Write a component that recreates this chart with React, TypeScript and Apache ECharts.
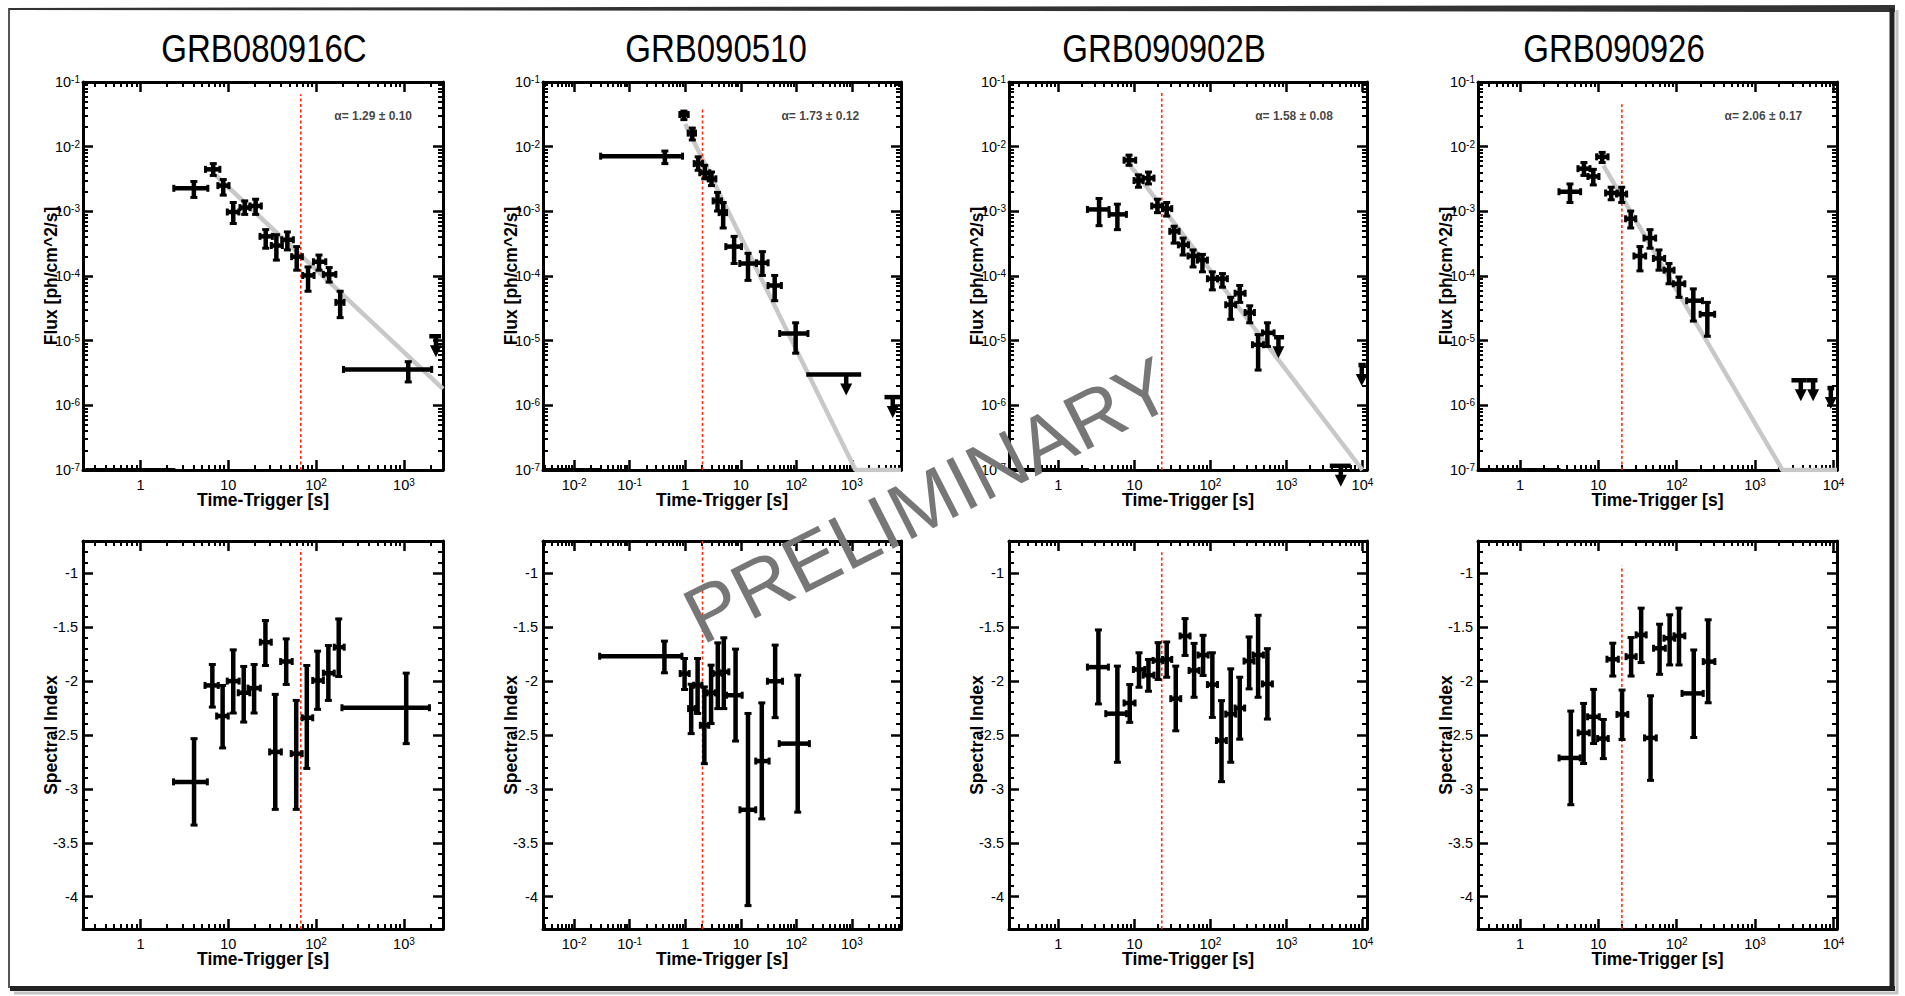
import React, { useEffect, useRef } from 'react';
import * as echarts from 'echarts';

// ---------------- DATA ----------------
const grbNames = ['GRB080916C', 'GRB090510', 'GRB090902B', 'GRB090926'];
const alphaTexts = ['α= 1.29 ± 0.10', 'α= 1.73 ± 0.12', 'α= 1.58 ± 0.08', 'α= 2.06 ± 0.17'];
// [time s, flux] anchor of each alpha annotation
const alphaAnchors = [[447, 0.0296], [270, 0.0296], [1260, 0.0296], [1277, 0.0296]];

// time axis range of each column (s)
const timeRanges = [[0.222, 2786], [0.00275, 7670], [0.224, 11480], [0.292, 11090]];
const fluxRange = [1e-7, 1e-1];
const indexRange = [-4.3, -0.7];
const indexTickValues = [-4, -3.5, -3, -2.5, -2, -1.5, -1];

// red dashed vertical line: time, top flux, top index
const breakTimes = [67, 2.05, 22.9, 20.0];
const breakTopFlux = [0.0646, 0.04, 0.0724, 0.0452];
const breakTopIndex = [-0.775, -0.7, -0.804, -0.929];

// flux points: [t, tLo, tHi, flux, fluxLo, fluxHi]
const flux080916C = [
  [4.06, 2.40, 5.86, 2.27e-3, 1.64e-3, 2.89e-3],
  [6.75, 5.51, 8.03, 4.46e-3, 3.59e-3, 5.47e-3],
  [8.77, 7.62, 10.2, 2.50e-3, 1.78e-3, 3.10e-3],
  [11.4, 9.75, 13.2, 9.77e-4, 6.49e-4, 1.37e-3],
  [15.4, 13.6, 17.7, 1.14e-3, 8.97e-4, 1.45e-3],
  [20.5, 17.7, 23.8, 1.21e-3, 8.97e-4, 1.54e-3],
  [26.7, 23.0, 31.8, 4.10e-4, 2.69e-4, 5.21e-4],
  [35.3, 30.9, 41.3, 2.96e-4, 1.76e-4, 4.35e-4],
  [47.1, 40.6, 55.1, 3.63e-4, 2.53e-4, 4.80e-4],
  [60.2, 52.7, 69.8, 1.99e-4, 1.23e-4, 2.85e-4],
  [81.0, 70.5, 94.9, 1.02e-4, 5.81e-5, 1.38e-4],
  [108, 93.3, 129, 1.66e-4, 1.23e-4, 2.11e-4],
  [141, 121, 168, 1.06e-4, 8.05e-5, 1.35e-4],
  [188, 168, 208, 3.91e-5, 2.27e-5, 5.81e-5],
  [1120, 205, 2070, 3.59e-6, 2.30e-6, 4.73e-6],
];
const flux090510 = [
  [0.43, 0.030, 0.895, 7.13e-3, 5.47e-3, 8.55e-3],
  [0.946, 0.80, 1.13, 3.14e-2, 2.62e-2, 3.55e-2],
  [1.34, 1.13, 1.53, 1.62e-2, 1.27e-2, 1.94e-2],
  [1.71, 1.45, 2.05, 5.47e-3, 4.31e-3, 6.96e-3],
  [2.25, 1.83, 2.77, 3.95e-3, 3.18e-3, 5.15e-3],
  [2.97, 2.59, 3.56, 3.18e-3, 2.50e-3, 4.05e-3],
  [3.81, 3.18, 4.50, 1.45e-3, 1.01e-3, 1.96e-3],
  [4.82, 4.08, 5.53, 9.55e-4, 5.53e-4, 1.37e-3],
  [7.59, 5.38, 10.3, 2.85e-4, 1.56e-4, 4.10e-4],
  [13.5, 9.6, 19.1, 1.56e-4, 8.55e-5, 2.24e-4],
  [24.5, 19.1, 31.0, 1.60e-4, 1.02e-4, 2.38e-4],
  [40.8, 31.0, 53.8, 7.13e-5, 4.15e-5, 1.02e-4],
  [97.3, 50.2, 162, 1.29e-5, 6.4e-6, 1.89e-5],
];
const flux090902B = [
  [3.43, 2.41, 4.64, 1.07e-3, 6.0e-4, 1.58e-3],
  [5.97, 4.64, 7.85, 8.97e-4, 5.21e-4, 1.29e-3],
  [8.5, 7.31, 10.4, 6.18e-3, 5.15e-3, 7.4e-3],
  [11.3, 9.9, 13.0, 2.99e-3, 2.36e-3, 3.67e-3],
  [15.3, 13.0, 18.1, 3.26e-3, 2.65e-3, 4.05e-3],
  [20.1, 16.9, 23.4, 1.21e-3, 9.53e-4, 1.54e-3],
  [26.6, 23.4, 31.0, 1.10e-3, 8.45e-4, 1.37e-3],
  [33.3, 29.2, 38.7, 4.91e-4, 3.22e-4, 5.89e-4],
  [43.7, 37.9, 51.4, 3.03e-4, 2.11e-4, 3.86e-4],
  [59.1, 50.8, 69.5, 2.04e-4, 1.38e-4, 2.53e-4],
  [78.5, 67.4, 91.3, 1.76e-4, 1.16e-4, 2.16e-4],
  [106, 91.3, 124, 9.08e-5, 6.1e-5, 1.16e-4],
  [144, 124, 167, 9.08e-5, 6.71e-5, 1.09e-4],
  [185, 159, 215, 3.59e-5, 2.14e-5, 4.68e-5],
  [243, 211, 286, 5.41e-5, 3.91e-5, 7.13e-5],
  [329, 286, 379, 2.72e-5, 1.89e-5, 3.46e-5],
  [424, 357, 498, 8.65e-6, 3.51e-6, 1.24e-5],
  [562, 483, 688, 1.32e-5, 8.15e-6, 1.89e-5],
];
const flux090926 = [
  [4.35, 3.15, 5.95, 2.01e-3, 1.37e-3, 2.65e-3],
  [6.56, 5.5, 7.83, 4.57e-3, 3.59e-3, 5.68e-3],
  [8.63, 7.38, 10.2, 3.46e-3, 2.56e-3, 4.46e-3],
  [11.2, 9.52, 13.3, 6.96e-3, 5.68e-3, 8.15e-3],
  [14.6, 12.4, 17.5, 1.92e-3, 1.51e-3, 2.36e-3],
  [19.9, 17.1, 23.0, 1.85e-3, 1.37e-3, 2.36e-3],
  [25.9, 22.3, 30.0, 7.67e-4, 5.53e-4, 1.01e-3],
  [34.0, 28.5, 40.2, 2.04e-4, 1.2e-4, 2.85e-4],
  [45.7, 38.3, 53.9, 3.86e-4, 2.69e-4, 5.21e-4],
  [59.5, 50.4, 70.3, 1.87e-4, 1.23e-4, 2.53e-4],
  [79.8, 68.9, 92.5, 1.23e-4, 7.58e-5, 1.56e-4],
  [107, 90.6, 127, 7.58e-5, 4.68e-5, 9.64e-5],
  [163, 134, 213, 4.15e-5, 2.01e-5, 6.32e-5],
  [246, 199, 305, 2.56e-5, 1.17e-5, 3.91e-5],
];
const fluxData = [flux080916C, flux090510, flux090902B, flux090926];

// upper limits: [t, tLo, tHi, flux]
const upperLimits = [
  [[2317, 1945, 2643, 1.17e-5]],
  [[791, 151, 1472, 2.99e-6], [5454, 3864, 7380, 1.34e-6]],
  [[785, 688, 931, 1.13e-5], [9800, 8860, 11070, 4.2e-6], [5190, 3720, 7020, 1.16e-7]],
  [[3830, 2910, 4570, 2.44e-6], [5500, 4570, 6250, 2.44e-6], [9250, 8380, 10200, 1.85e-6]],
];
// bins with flux below the axis (drawn on the floor): [tLo, tHi]
const floorBins = [[[0.236, 2.5]], [[0.00275, 0.0293]], [[0.224, 2.53]], [[0.292, 3.3]]];

// power-law fit lines: [t, flux]
const fitLines = [
  [[7.2, 3.6e-3], [2786, 1.8e-6]],
  [[1.0, 2.24e-2], [1164, 1e-7], [7670, 1e-7]],
  [[8.8, 5.15e-3], [10000, 1e-7]],
  [[11.6, 5.15e-3], [2230, 1e-7], [11090, 1e-7]],
];

// spectral index: [t, tLo, tHi, index, indexLo, indexHi]
const index080916C = [
  [4.08, 2.38, 5.78, -2.935, -3.336, -2.534],
  [6.59, 5.44, 7.70, -2.04, -2.241, -1.846],
  [8.63, 7.38, 10.0, -2.324, -2.62, -2.04],
  [11.4, 9.74, 13.3, -2.0, -2.296, -1.71],
  [15.0, 13.0, 17.6, -2.108, -2.38, -1.864],
  [19.7, 16.8, 23.2, -2.065, -2.296, -1.846],
  [26.5, 23.2, 30.9, -1.639, -1.855, -1.438],
  [34.3, 29.6, 40.2, -2.657, -3.19, -2.123],
  [45.7, 39.5, 53.5, -1.818, -2.031, -1.608],
  [59.4, 52.1, 69.4, -2.673, -3.19, -2.179],
  [78.4, 69.4, 91.6, -2.34, -2.81, -1.855],
  [104, 91.6, 121, -1.994, -2.262, -1.722],
  [138, 121, 161, -1.926, -2.179, -1.67],
  [181, 161, 209, -1.685, -1.957, -1.423],
  [1062, 197, 1953, -2.247, -2.58, -1.926],
];
const index090510 = [
  [0.422, 0.0288, 0.871, -1.769, -1.923, -1.629],
  [0.973, 0.812, 1.18, -1.93, -2.078, -1.79],
  [1.28, 1.15, 1.52, -2.255, -2.487, -2.029],
  [1.67, 1.42, 2.0, -2.038, -2.30, -1.79],
  [2.21, 1.87, 2.65, -2.41, -2.766, -2.054],
  [2.92, 2.47, 3.5, -2.109, -2.394, -1.852],
  [3.86, 3.18, 4.62, -1.93, -2.255, -1.645],
  [4.95, 4.02, 6.1, -1.914, -2.255, -1.598],
  [8.06, 5.54, 10.6, -2.131, -2.556, -1.703],
  [13.5, 9.66, 18.6, -3.194, -4.083, -2.30],
  [23.9, 18.6, 32.4, -2.742, -3.278, -2.202],
  [41.6, 30.2, 56.5, -2.001, -2.339, -1.666],
  [106, 49.2, 172, -2.58, -3.216, -1.945],
];
const index090902B = [
  [3.36, 2.41, 4.55, -1.870, -2.212, -1.525],
  [5.97, 4.2, 7.85, -2.302, -2.753, -1.861],
  [8.68, 7.31, 10.2, -2.203, -2.383, -2.032],
  [11.5, 9.7, 13.7, -1.892, -2.057, -1.737],
  [15.3, 13.0, 18.1, -1.945, -2.094, -1.799],
  [20.5, 17.6, 23.8, -1.808, -1.985, -1.643],
  [26.6, 23.4, 31.0, -1.799, -1.964, -1.637],
  [35.0, 30.1, 40.7, -2.163, -2.461, -1.861],
  [46.4, 39.9, 54.0, -1.581, -1.762, -1.42],
  [61, 52.4, 71.0, -1.901, -2.15, -1.65],
  [80.1, 68.8, 93.2, -1.758, -1.948, -1.575],
  [106, 91.3, 124, -2.032, -2.337, -1.737],
  [140, 120, 162, -2.551, -2.933, -2.181],
  [185, 159, 215, -2.306, -2.753, -1.886],
  [243, 211, 282, -2.25, -2.539, -1.964],
  [323, 277, 375, -1.814, -2.072, -1.59],
  [424, 364, 498, -1.758, -2.15, -1.389],
  [562, 483, 654, -2.026, -2.352, -1.699],
];
const index090926 = [
  [4.46, 3.16, 5.88, -2.713, -3.147, -2.278],
  [6.49, 5.54, 7.67, -2.48, -2.765, -2.207],
  [8.71, 7.3, 10.3, -2.331, -2.579, -2.077],
  [11.6, 9.8, 13.4, -2.533, -2.719, -2.356],
  [15.3, 12.9, 18.0, -1.797, -1.953, -1.648],
  [20.1, 17.3, 23.8, -2.309, -2.542, -2.083],
  [26.2, 22.6, 30.4, -1.773, -1.953, -1.596],
  [35.2, 30.4, 40.8, -1.571, -1.828, -1.323],
  [46.4, 38.9, 54.9, -2.527, -2.921, -2.136],
  [60.5, 50.7, 71.6, -1.695, -1.937, -1.472],
  [81.3, 68.8, 94.3, -1.602, -1.85, -1.385],
  [107, 92.4, 127, -1.58, -1.85, -1.323],
  [165, 117, 218, -2.114, -2.523, -1.711],
  [252, 218, 307, -1.819, -2.201, -1.431],
];
const indexData = [index080916C, index090510, index090902B, index090926];

// ---------------- LAYOUT ----------------
const FONT = "'Liberation Sans', Arial, Helvetica, sans-serif";
const colLeft = [83, 543, 1009, 1478];
const colWidth = [360, 358, 358, 359];
const rowTop = [82, 541];
const rowHeight = 388;
const titleX = [264, 716, 1164, 1614];

const lg = (v: number) => Math.log10(v);

function logMajor(a: number, b: number) {
  const out: number[] = [];
  for (let e = Math.ceil(a); e <= Math.floor(b); e++) out.push(e);
  return out;
}
function logMinor(a: number, b: number) {
  const out: number[] = [];
  for (let e = Math.floor(a); e <= Math.floor(b); e++) {
    for (let k = 2; k <= 9; k++) {
      const v = e + Math.log10(k);
      if (v > a + 1e-6 && v < b - 1e-6) out.push(v);
    }
  }
  return out;
}
function indexMinor() {
  const out: number[] = [];
  for (let i = -42; i <= -8; i++) if (i % 5 !== 0) out.push(i / 10);
  return out;
}

const powLabel = (v: number) => {
  const e = Math.round(v);
  if (e === 0) return '1';
  if (e === 1) return '10';
  return '10{s|' + e + '}';
};
const fluxLabel = (v: number) => '10{s|' + Math.round(v) + '}';
const indexLabel = (v: number) => String(Math.round(v * 10) / 10);

const rich = { s: { fontSize: 10, verticalAlign: 'top', fontFamily: FONT, color: '#000' } };

function makeAxes(dim: 'x' | 'y', g: number, min: number, max: number, major: number[], minor: number[],
  formatter: (v: number) => string, name: string, nameGap: number, labelMargin: number) {
  const isX = dim === 'x';
  const p1 = isX ? 'bottom' : 'left';
  const p2 = isX ? 'top' : 'right';
  const lineStyle = { color: '#000', width: 3 };
  const base: any = {
    type: 'value', gridIndex: g, min, max, silent: true,
    splitLine: { show: false }, splitArea: { show: false }, minorTick: { show: false },
  };
  const majorTick = { show: true, inside: true, length: 10, customValues: major, lineStyle: { color: '#000', width: 2.5 } };
  const minorTick = { show: true, inside: true, length: 5, customValues: minor, lineStyle: { color: '#000', width: 2 } };
  return [
    {
      ...base, position: p1,
      axisLine: { show: true, onZero: false, lineStyle },
      axisTick: majorTick,
      axisLabel: {
        show: true, customValues: major, formatter, margin: labelMargin,
        color: '#000', fontSize: 14.5, fontFamily: FONT, rich,
      },
      name, nameLocation: 'middle', nameGap, nameRotate: isX ? 0 : 90, nameMoveOverlap: false,
      nameTextStyle: { fontSize: 17.5, fontWeight: 'bold', fontFamily: FONT, color: '#000' },
    },
    { ...base, position: p1, axisLine: { show: false, onZero: false }, axisTick: minorTick, axisLabel: { show: false } },
    { ...base, position: p2, axisLine: { show: true, onZero: false, lineStyle }, axisTick: majorTick, axisLabel: { show: false } },
    { ...base, position: p2, axisLine: { show: false, onZero: false }, axisTick: minorTick, axisLabel: { show: false } },
  ];
}

function errorBarRender(params: any, api: any) {
  const c = api.coord([api.value(0), api.value(3)]);
  const l = api.coord([api.value(1), api.value(3)]);
  const r = api.coord([api.value(2), api.value(3)]);
  const lo = api.coord([api.value(0), api.value(4)]);
  const hi = api.coord([api.value(0), api.value(5)]);
  const st = { stroke: '#000', lineWidth: 4.5 };
  const cap = { stroke: '#000', lineWidth: 3 };
  return {
    type: 'group',
    children: [
      { type: 'line', shape: { x1: l[0], y1: c[1], x2: r[0], y2: c[1] }, style: st },
      { type: 'line', shape: { x1: c[0], y1: lo[1], x2: c[0], y2: hi[1] }, style: st },
      { type: 'line', shape: { x1: l[0], y1: c[1] - 3.5, x2: l[0], y2: c[1] + 3.5 }, style: cap },
      { type: 'line', shape: { x1: r[0], y1: c[1] - 3.5, x2: r[0], y2: c[1] + 3.5 }, style: cap },
      { type: 'line', shape: { x1: c[0] - 3.5, y1: lo[1], x2: c[0] + 3.5, y2: lo[1] }, style: cap },
      { type: 'line', shape: { x1: c[0] - 3.5, y1: hi[1], x2: c[0] + 3.5, y2: hi[1] }, style: cap },
    ],
  };
}

function upperLimitRender(params: any, api: any) {
  const c = api.coord([api.value(0), api.value(3)]);
  const l = api.coord([api.value(1), api.value(3)]);
  const r = api.coord([api.value(2), api.value(3)]);
  const st = { stroke: '#000', lineWidth: 4.5 };
  return {
    type: 'group',
    children: [
      { type: 'line', shape: { x1: l[0], y1: c[1], x2: r[0], y2: c[1] }, style: st },
      { type: 'line', shape: { x1: c[0], y1: c[1], x2: c[0], y2: c[1] + 11 }, style: st },
      { type: 'polygon', shape: { points: [[c[0] - 6, c[1] + 9], [c[0] + 6, c[1] + 9], [c[0], c[1] + 21]] }, style: { fill: '#000' } },
    ],
  };
}

function buildOption() {
  const grid: any[] = [];
  const xAxis: any[] = [];
  const yAxis: any[] = [];
  const series: any[] = [];

  for (let row = 0; row < 2; row++) {
    for (let col = 0; col < 4; col++) {
      const g = row * 4 + col;
      grid.push({ left: colLeft[col], top: rowTop[row], width: colWidth[col], height: rowHeight, outerBoundsMode: 'none', containLabel: false });
      const xmin = lg(timeRanges[col][0]);
      const xmax = lg(timeRanges[col][1]);
      xAxis.push(...makeAxes('x', g, xmin, xmax, logMajor(xmin, xmax), logMinor(xmin, xmax), powLabel, 'Time-Trigger [s]', 21, 7));
      const xi = g * 4;
      const yi = g * 4;
      if (row === 0) {
        const ymin = lg(fluxRange[0]);
        const ymax = lg(fluxRange[1]);
        yAxis.push(...makeAxes('y', g, ymin, ymax, logMajor(ymin, ymax), logMinor(ymin, ymax), fluxLabel, 'Flux [ph/cm^2/s]', 23, 3));
        series.push({
          type: 'line', xAxisIndex: xi, yAxisIndex: yi, symbol: 'none', silent: true, z: 1,
          data: fitLines[col].map((p) => [lg(p[0]), lg(p[1])]),
          lineStyle: { color: '#c8c8c8', width: 4.5 },
        });
        series.push({
          type: 'line', xAxisIndex: xi, yAxisIndex: yi, symbol: 'none', silent: true, z: 1,
          data: [[lg(breakTimes[col]), ymin], [lg(breakTimes[col]), lg(breakTopFlux[col])]],
          lineStyle: { color: '#ff2a10', width: 1.6, type: [3, 2.5] },
        });
        series.push({
          type: 'line', xAxisIndex: xi, yAxisIndex: yi, symbol: 'none', silent: true, z: 2,
          data: floorBins[col].flatMap((b) => [[lg(b[0]), ymin], [lg(b[1]), ymin]]),
          lineStyle: { color: '#000', width: 4 },
        });
        series.push({
          type: 'custom', xAxisIndex: xi, yAxisIndex: yi, silent: true, clip: false, z: 3,
          encode: { x: 0, y: 3 },
          data: fluxData[col].map((p) => p.map(lg)),
          renderItem: errorBarRender,
        });
        series.push({
          type: 'custom', xAxisIndex: xi, yAxisIndex: yi, silent: true, clip: false, z: 3,
          encode: { x: 0, y: 3 },
          data: upperLimits[col].map((p) => p.map(lg)),
          renderItem: upperLimitRender,
        });
        series.push({
          type: 'scatter', xAxisIndex: xi, yAxisIndex: yi, silent: true, symbolSize: 1, z: 4,
          itemStyle: { color: 'rgba(0,0,0,0)' },
          data: [[lg(alphaAnchors[col][0]), lg(alphaAnchors[col][1])]],
          label: {
            show: true, position: 'inside', formatter: alphaTexts[col],
            fontSize: 12, fontWeight: 'bold', fontFamily: FONT, color: '#111',
          },
        });
      } else {
        yAxis.push(...makeAxes('y', g, indexRange[0], indexRange[1], indexTickValues, indexMinor(), indexLabel, 'Spectral Index', 23, 5));
        series.push({
          type: 'line', xAxisIndex: xi, yAxisIndex: yi, symbol: 'none', silent: true, z: 1,
          data: [[lg(breakTimes[col]), indexRange[0]], [lg(breakTimes[col]), breakTopIndex[col]]],
          lineStyle: { color: '#ff2a10', width: 1.6, type: [3, 2.5] },
        });
        series.push({
          type: 'custom', xAxisIndex: xi, yAxisIndex: yi, silent: true, clip: false, z: 3,
          encode: { x: 0, y: 3 },
          data: indexData[col].map((p) => [lg(p[0]), lg(p[1]), lg(p[2]), p[3], p[4], p[5]]),
          renderItem: errorBarRender,
        });
      }
    }
  }

  const graphic: any[] = [
    { type: 'rect', shape: { x: 9, y: 9, width: 1882, height: 978 }, style: { fill: 'none', stroke: '#555', lineWidth: 2 }, z: 50 },
    { type: 'polygon', shape: { points: [[9, 8], [1895, 5], [1895, 12], [9, 10]] }, style: { fill: '#333' }, z: 50 },
    { type: 'line', shape: { x1: 1892, y1: 8, x2: 1892, y2: 991 }, style: { stroke: '#222', lineWidth: 5 }, z: 50 },
    { type: 'line', shape: { x1: 10, y1: 988.5, x2: 1895, y2: 988.5 }, style: { stroke: '#222', lineWidth: 5 }, z: 50 },
    { type: 'line', shape: { x1: 1897, y1: 10, x2: 1897, y2: 994 }, style: { stroke: '#c4c4c4', lineWidth: 3 }, z: 50 },
    { type: 'line', shape: { x1: 14, y1: 993, x2: 1898, y2: 993 }, style: { stroke: '#c4c4c4', lineWidth: 3 }, z: 50 },
  ];
  grbNames.forEach((n, i) => {
    graphic.push({
      type: 'text', x: titleX[i], y: 49, scaleY: 1.15, z: 50,
      style: { text: n, fontSize: 33, fontFamily: FONT, fill: '#000', align: 'center', verticalAlign: 'middle', textAlign: 'center', textVerticalAlign: 'middle' },
    });
  });
  graphic.push({
    type: 'text', x: 928, y: 500, rotation: 0.47, z: 100,
    style: { text: 'PRELIMINARY', fontSize: 79, fontFamily: FONT, fill: '#777', align: 'center', verticalAlign: 'middle', textAlign: 'center', textVerticalAlign: 'middle' },
  });

  return { animation: false, backgroundColor: '#fff', grid, xAxis, yAxis, series, graphic };
}

export default function App() {
  const ref = useRef<HTMLDivElement>(null);
  useEffect(() => {
    if (!ref.current) return;
    const chart = echarts.init(ref.current, null, { renderer: 'svg' });
    chart.setOption(buildOption() as any);
    return () => chart.dispose();
  }, []);
  return (
    <div
      ref={ref}
      style={{ position: 'absolute', left: 0, top: 0, width: 1905, height: 996, background: '#fff' }}
    />
  );
}
